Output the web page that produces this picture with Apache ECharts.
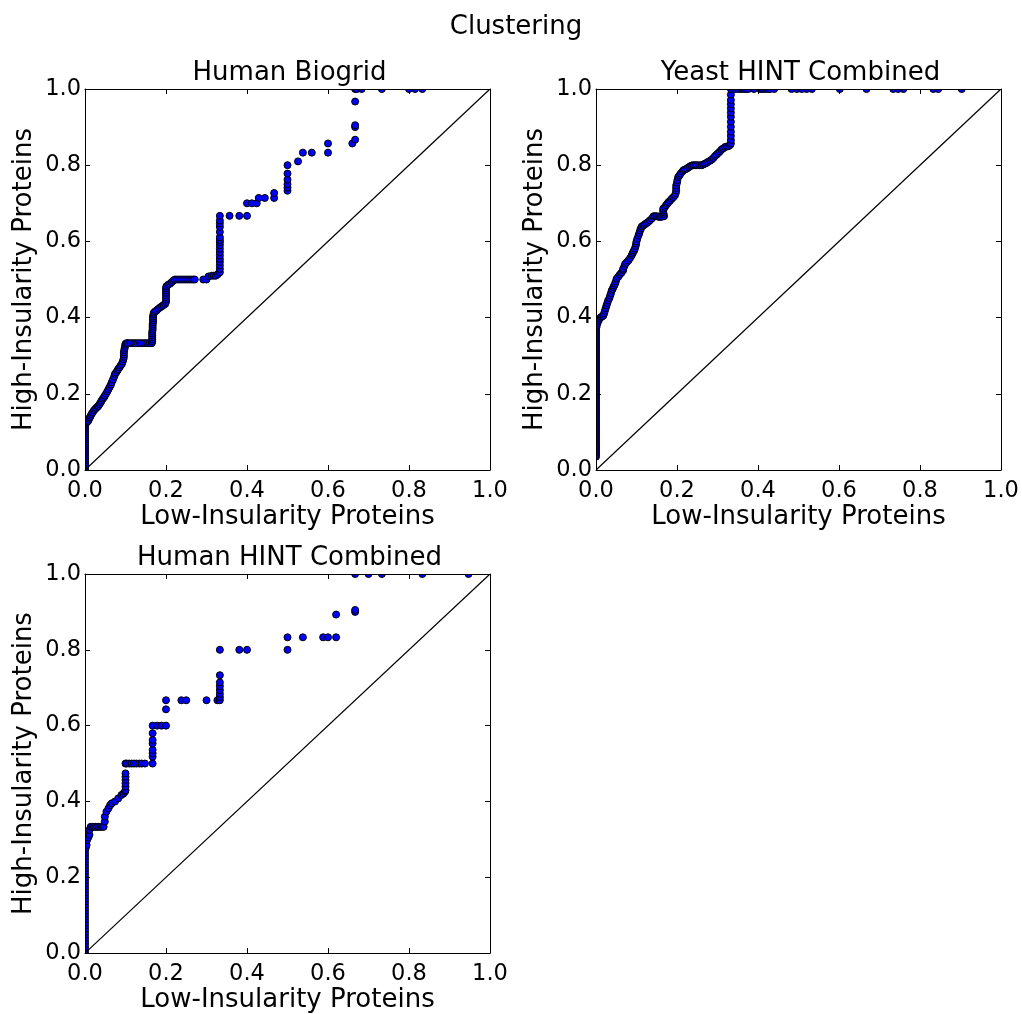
<!DOCTYPE html>
<html>
<head>
<meta charset="utf-8">
<script src="https://cdn.jsdelivr.net/npm/echarts@6/dist/echarts.min.js"></script>
<style>
  html, body { margin: 0; padding: 0; background: #fff; }
  #chart { width: 1022px; height: 1014px; }
</style>
</head>
<body>
<div id="chart"></div>
<script>
// Panel titles
const panelTitles = ['Human Biogrid', 'Yeast HINT Combined', 'Human HINT Combined'];
const figureTitle = 'Clustering';
const xName = 'Low-Insularity Proteins';
const yName = 'High-Insularity Proteins';
const tickValues = [0, 0.2, 0.4, 0.6, 0.8, 1.0];

// Reference diagonal y = x
const diagonal = [[0, 0], [1, 1]];

// Human Biogrid: (low-insularity fraction, high-insularity fraction)
const humanBiogrid = [
  [0,0],[0,0.005],[0,0.01],[0,0.015],[0,0.02],[0,0.025],[0,0.03],[0,0.035],[0,0.04],[0,0.045],[0,0.05],[0,0.055],[0,0.06],
  [0,0.065],[0,0.07],[0,0.075],[0,0.08],[0,0.085],[0,0.09],[0,0.095],[0,0.1],[0,0.105],[0,0.11],[0,0.115],[0,0.12],
  [0.002,0.122],[0.004,0.125],[0.006,0.127],[0.008,0.129],[0.01,0.134],[0.012,0.138],[0.014,0.142],[0.016,0.147],[0.019,0.151],
  [0.022,0.156],[0.025,0.16],[0.028,0.163],[0.031,0.166],[0.033,0.168],[0.036,0.173],[0.039,0.178],[0.041,0.182],[0.044,0.187],
  [0.047,0.191],[0.049,0.195],[0.052,0.2],[0.055,0.206],[0.058,0.212],[0.061,0.218],[0.064,0.224],[0.066,0.23],[0.069,0.237],
  [0.072,0.245],[0.074,0.252],[0.077,0.256],[0.08,0.261],[0.082,0.265],[0.085,0.269],[0.088,0.274],[0.091,0.278],[0.093,0.284],
  [0.095,0.291],[0.096,0.297],[0.096,0.303],[0.096,0.309],[0.097,0.315],[0.098,0.32],[0.099,0.326],[0.1,0.331],[0.103,0.333],
  [0.106,0.333],[0.112,0.333],[0.118,0.333],[0.124,0.333],[0.13,0.333],[0.136,0.333],[0.142,0.333],[0.148,0.333],[0.154,0.333],
  [0.16,0.333],[0.165,0.333],
  [0.166,0.338],[0.166,0.343],[0.166,0.348],[0.166,0.353],[0.166,0.358],[0.166,0.363],[0.167,0.368],[0.167,0.373],[0.167,0.378],
  [0.167,0.383],[0.168,0.388],[0.168,0.393],[0.168,0.398],[0.168,0.403],[0.169,0.408],[0.17,0.413],
  [0.173,0.416],[0.177,0.419],[0.181,0.423],[0.186,0.427],[0.19,0.43],[0.194,0.433],[0.198,0.436],[0.2,0.441],[0.2,0.447],
  [0.2,0.453],[0.2,0.459],[0.2,0.465],[0.2,0.471],[0.2,0.477],[0.201,0.482],[0.205,0.486],[0.21,0.489],[0.214,0.493],
  [0.218,0.497],[0.222,0.5],
  [0.227,0.5],[0.232,0.5],[0.237,0.5],[0.242,0.5],[0.247,0.5],[0.252,0.5],[0.257,0.5],[0.262,0.5],[0.267,0.5],[0.271,0.5],
  [0.292,0.5],[0.3,0.5],
  [0.305,0.508],[0.313,0.51],[0.318,0.51],[0.323,0.51],[0.328,0.514],[0.333,0.519],
  [0.333,0.528],[0.333,0.537],[0.333,0.546],[0.333,0.554],[0.333,0.563],[0.333,0.572],[0.333,0.581],[0.333,0.59],[0.333,0.598],
  [0.333,0.604],[0.333,0.611],[0.333,0.625],[0.333,0.638],[0.333,0.647],[0.333,0.655],[0.333,0.667],
  [0.357,0.667],[0.381,0.667],[0.4,0.667],
  [0.4,0.7],[0.412,0.7],[0.424,0.7],[0.429,0.714],[0.444,0.714],[0.467,0.714],[0.467,0.727],
  [0.5,0.733],[0.5,0.741],[0.5,0.75],[0.5,0.762],[0.5,0.778],[0.5,0.8],
  [0.526,0.81],[0.538,0.833],[0.56,0.833],[0.6,0.833],[0.6,0.857],[0.66,0.857],[0.667,0.867],[0.667,0.9],[0.667,0.905],[0.667,0.967],
  [0.667,1],[0.671,1],[0.683,1],[0.733,1],[0.8,1],[0.815,1],[0.833,1]
];

// Yeast HINT Combined
const yeastHint = [
  [0,0.035],[0,0.04],[0,0.045],[0,0.05],[0,0.055],[0,0.06],[0,0.065],[0,0.07],[0,0.075],[0,0.08],[0,0.085],[0,0.09],[0,0.095],
  [0,0.1],[0,0.105],[0,0.11],[0,0.115],[0,0.12],[0,0.125],[0,0.13],[0,0.135],[0,0.14],[0,0.145],[0,0.15],[0,0.155],[0,0.16],
  [0,0.165],[0,0.17],[0,0.175],[0,0.18],[0,0.185],[0,0.19],[0,0.195],[0,0.2],[0,0.205],[0,0.21],[0,0.215],[0,0.22],[0,0.225],
  [0,0.23],[0,0.235],[0,0.24],[0,0.245],[0,0.25],[0,0.255],[0,0.26],[0,0.265],[0,0.27],[0,0.275],[0,0.28],[0,0.285],[0,0.29],
  [0,0.295],[0,0.3],[0,0.305],[0,0.31],[0,0.315],[0,0.32],[0,0.325],[0,0.33],[0,0.335],[0,0.34],[0,0.345],[0,0.35],[0,0.355],
  [0,0.36],[0,0.365],[0,0.37],
  [0.001,0.374],[0.002,0.38],[0.004,0.386],[0.006,0.392],[0.009,0.397],[0.012,0.401],[0.015,0.403],[0.018,0.405],[0.02,0.411],
  [0.022,0.418],[0.024,0.425],[0.026,0.432],[0.028,0.438],[0.03,0.445],[0.033,0.451],[0.035,0.458],[0.037,0.464],[0.039,0.471],
  [0.041,0.475],[0.043,0.48],[0.045,0.484],[0.047,0.489],[0.049,0.495],[0.051,0.502],[0.055,0.507],[0.059,0.513],[0.063,0.518],
  [0.067,0.524],[0.067,0.528],[0.07,0.535],[0.072,0.541],[0.076,0.545],[0.08,0.55],[0.084,0.556],[0.088,0.563],[0.09,0.568],
  [0.092,0.572],[0.094,0.576],[0.096,0.581],[0.098,0.588],[0.099,0.594],[0.1,0.6],[0.102,0.607],[0.105,0.616],[0.107,0.622],
  [0.109,0.629],[0.111,0.634],[0.113,0.639],[0.117,0.642],[0.121,0.645],[0.125,0.648],[0.129,0.651],[0.133,0.655],[0.138,0.66],
  [0.142,0.666],[0.146,0.666],[0.15,0.666],[0.154,0.665],[0.158,0.664],[0.163,0.665],[0.168,0.666],[0.167,0.672],[0.166,0.677],
  [0.166,0.681],[0.166,0.686],[0.17,0.69],[0.173,0.695],[0.176,0.699],[0.179,0.703],[0.183,0.707],[0.187,0.712],[0.191,0.716],
  [0.195,0.721],[0.197,0.727],[0.198,0.734],[0.198,0.74],[0.198,0.747],[0.2,0.754],[0.201,0.761],[0.203,0.769],[0.206,0.773],
  [0.209,0.778],[0.213,0.783],[0.216,0.787],[0.22,0.789],[0.224,0.791],[0.228,0.794],[0.232,0.797],[0.236,0.799],[0.24,0.8],
  [0.245,0.8],[0.249,0.8],[0.255,0.8],[0.261,0.8],[0.265,0.802],[0.269,0.804],[0.273,0.806],[0.277,0.809],[0.282,0.812],
  [0.286,0.815],[0.29,0.819],[0.294,0.824],[0.298,0.828],[0.302,0.832],[0.306,0.836],[0.31,0.841],[0.314,0.844],[0.319,0.848],
  [0.323,0.849],[0.327,0.85],[0.331,0.853],[0.333,0.857],
  [0.333,0.866],[0.333,0.877],[0.333,0.888],[0.333,0.901],[0.333,0.914],[0.333,0.927],[0.333,0.938],[0.333,0.949],[0.333,0.96],
  [0.333,0.971],[0.333,0.985],
  [0.333,1],[0.343,1],[0.351,1],[0.358,1],[0.364,1],[0.37,1],[0.376,1],[0.39,1],[0.405,1],[0.411,1],[0.417,1],[0.424,1],[0.43,1],
  [0.44,1],[0.483,1],[0.496,1],[0.508,1],[0.52,1],[0.533,1],[0.602,1],[0.668,1],[0.734,1],[0.746,1],[0.759,1],[0.833,1],
  [0.845,1],[0.903,1]
];

// Human HINT Combined
const humanHint = [
  [0,0],[0,0.008],[0,0.016],[0,0.024],[0,0.032],[0,0.04],[0,0.048],[0,0.056],[0,0.064],[0,0.072],[0,0.08],[0,0.088],[0,0.096],
  [0,0.104],[0,0.112],[0,0.12],[0,0.128],[0,0.136],[0,0.144],[0,0.152],[0,0.16],[0,0.168],[0,0.176],[0,0.184],[0,0.192],[0,0.2],
  [0,0.208],[0,0.216],[0,0.224],[0,0.232],[0,0.24],[0,0.248],[0,0.256],[0,0.264],[0,0.272],[0.002,0.278],
  [0.004,0.285],[0.005,0.298],[0.008,0.305],[0.011,0.312],[0.011,0.325],[0.014,0.333],[0.018,0.333],[0.022,0.333],[0.026,0.333],
  [0.03,0.333],[0.034,0.333],[0.038,0.333],[0.042,0.333],[0.046,0.333],[0.049,0.347],[0.049,0.36],[0.053,0.373],[0.058,0.382],
  [0.062,0.39],[0.066,0.395],[0.074,0.4],[0.082,0.408],[0.09,0.417],[0.095,0.421],[0.099,0.426],
  [0.1,0.43],[0.1,0.439],[0.1,0.448],[0.1,0.457],[0.1,0.465],[0.1,0.474],[0.1,0.5],
  [0.103,0.5],[0.109,0.5],[0.115,0.5],[0.121,0.5],[0.127,0.5],[0.134,0.5],[0.14,0.5],[0.148,0.5],[0.167,0.5],
  [0.167,0.518],[0.167,0.527],[0.167,0.536],[0.167,0.553],[0.167,0.562],[0.167,0.58],[0.167,0.6],
  [0.178,0.6],[0.189,0.6],[0.2,0.6],[0.2,0.643],[0.2,0.667],[0.238,0.667],[0.25,0.667],[0.3,0.667],[0.327,0.667],
  [0.333,0.667],[0.333,0.675],[0.333,0.684],[0.333,0.694],[0.333,0.704],[0.333,0.714],[0.333,0.733],[0.333,0.8],
  [0.381,0.8],[0.4,0.8],[0.5,0.8],[0.5,0.833],[0.538,0.833],[0.588,0.833],[0.6,0.833],[0.62,0.833],[0.62,0.893],
  [0.667,0.9],[0.667,0.905],[0.667,1],[0.7,1],[0.733,1],[0.833,1],[0.947,1]
];

const panelData = [humanBiogrid, yeastHint, humanHint];

// Layout of the three axes boxes: [left, top, width, height]
const boxes = [[85, 89, 405, 381], [596, 89, 405, 381], [85, 574, 405, 380]];
const titleTops = [60.5, 60.5, 545];

const FONT = 'DejaVu Sans';
const INK = '#000';
const TITLE_SIZE = 26;
const TICK_SIZE = 22.5;

const grids = [], xAxes = [], yAxes = [], series = [], titles = [], masks = [];

titles.push({
  text: figureTitle, left: 516, top: 14, textAlign: 'center', padding: 0, z: 20,
  textStyle: { fontFamily: FONT, fontSize: TITLE_SIZE, fontWeight: 'normal', color: INK }
});

boxes.forEach(function (b, i) {
  const [l, t, w, h] = b;
  grids.push({ left: l, top: t, width: w, height: h, containLabel: false });

  titles.push({
    text: panelTitles[i], left: l + w / 2 + 2, top: titleTops[i], textAlign: 'center', padding: 0, z: 20,
    textStyle: { fontFamily: FONT, fontSize: TITLE_SIZE, fontWeight: 'normal', color: INK }
  });

  const common = {
    gridIndex: i, type: 'value', min: 0, max: 1, interval: 0.2, z: 10,
    axisLine: { show: true, onZero: false, lineStyle: { color: INK, width: 1 } },
    axisTick: { show: true, inside: true, length: 5, lineStyle: { color: INK, width: 1 } },
    splitLine: { show: false }
  };
  const labelStyle = {
    show: true, fontFamily: FONT, fontSize: TICK_SIZE, color: INK,
    formatter: function (v) { return v.toFixed(1); }
  };

  xAxes.push(Object.assign({}, common, {
    position: 'bottom',
    axisLabel: Object.assign({}, labelStyle, { margin: 10 }),
    name: xName, nameLocation: 'middle', nameGap: 33,
    nameTextStyle: { fontFamily: FONT, fontSize: TITLE_SIZE, color: INK }
  }));
  xAxes.push(Object.assign({}, common, { position: 'top', axisLabel: { show: false } }));

  yAxes.push(Object.assign({}, common, {
    position: 'left',
    axisLabel: Object.assign({}, labelStyle, { margin: 4 }),
    name: yName, nameLocation: 'middle', nameGap: 48, nameRotate: 90,
    nameTextStyle: { fontFamily: FONT, fontSize: TITLE_SIZE, color: INK }
  }));
  yAxes.push(Object.assign({}, common, { position: 'right', axisLabel: { show: false } }));

  series.push({
    type: 'line', xAxisIndex: 2 * i, yAxisIndex: 2 * i, data: diagonal,
    showSymbol: false, symbol: 'none', silent: true, animation: false, z: 3,
    lineStyle: { color: INK, width: 1.2 }
  });
  series.push({
    type: 'scatter', xAxisIndex: 2 * i, yAxisIndex: 2 * i, data: panelData[i],
    symbol: 'circle', symbolSize: 7, animation: false, z: 2,
    itemStyle: { color: '#0000ff', borderColor: INK, borderWidth: 1, opacity: 1 }
  });

  // white bands just outside each box so markers on the frame are cut at the spine
  const m = 7;
  [[l - m, t - m, m, h + 2 * m], [l + w, t - m, m, h + 2 * m], [l - m, t - m, w + 2 * m, m], [l - m, t + h, w + 2 * m, m]]
    .forEach(function (r) {
      masks.push({ type: 'rect', z: 5, silent: true, shape: { x: r[0], y: r[1], width: r[2], height: r[3] }, style: { fill: '#fff' } });
    });
});

const chart = echarts.init(document.getElementById('chart'), null, { renderer: 'canvas' });
chart.setOption({
  backgroundColor: '#fff',
  animation: false,
  title: titles,
  grid: grids,
  xAxis: xAxes,
  yAxis: yAxes,
  series: series,
  graphic: { elements: masks }
});
</script>
</body>
</html>
